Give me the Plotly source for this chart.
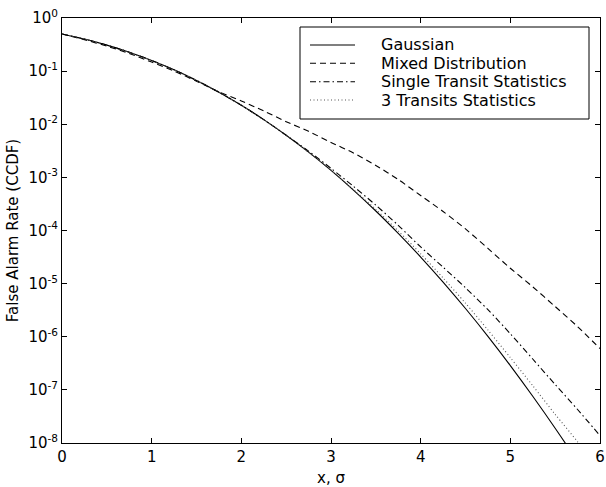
import plotly.graph_objects as go

# ---- data ----
x_vals = [0, 0.25, 0.5, 0.75, 1, 1.25, 1.5, 1.75, 2, 2.25, 2.5, 2.75, 3,
          3.25, 3.5, 3.75, 4, 4.25, 4.5, 4.75, 5, 5.25, 5.5, 5.75, 6]

gaussian = [0.5, 0.4013, 0.3085, 0.2266, 0.1587, 0.1056, 0.0668, 0.0401, 0.02275,
            0.01222, 0.00621, 0.00298, 0.00135, 5.77e-4, 2.33e-4, 8.84e-5, 3.17e-5,
            1.07e-5, 3.40e-6, 1.02e-6, 2.87e-7, 7.6e-8, 1.9e-8, 4.47e-9, 9.9e-10]

mixed = [0.5, 0.389, 0.295, 0.214, 0.148, 0.100, 0.0646, 0.0407, 0.0275,
         0.0178, 0.0112, 0.00735, 0.00455, 0.00288, 0.00168, 9.1e-4, 4.55e-4,
         2.28e-4, 1.07e-4, 4.6e-5, 1.95e-5, 8.7e-6, 3.7e-6, 1.55e-6, 6.0e-7]

single_transit = [0.5, 0.4013, 0.3085, 0.2266, 0.1587, 0.1056, 0.0668, 0.0401, 0.02275,
                  0.01222, 0.00621, 0.00312, 0.00148, 6.78e-4, 3.0e-4, 1.25e-4, 4.91e-5,
                  2.04e-5, 8.35e-6, 3.23e-6, 1.14e-6, 3.81e-7, 1.26e-7, 4.27e-8, 1.38e-8]

three_transits = [0.5, 0.4013, 0.3085, 0.2266, 0.1587, 0.1056, 0.0668, 0.0401, 0.02275,
                  0.01222, 0.00621, 0.00298, 0.00138, 5.90e-4, 2.49e-4, 9.8e-5, 3.64e-5,
                  1.28e-5, 4.28e-6, 1.34e-6, 4.05e-7, 1.20e-7, 3.46e-8, 1.05e-8, 2.8e-9]

series_names = ["Gaussian", "Mixed Distribution", "Single Transit Statistics", "3 Transits Statistics"]

x_ticks = [0, 1, 2, 3, 4, 5, 6]
x_tick_labels = ["0", "1", "2", "3", "4", "5", "6"]
y_ticks = [1e-8, 1e-7, 1e-6, 1e-5, 1e-4, 1e-3, 1e-2, 1e-1, 1]
y_tick_labels = ["10<sup>-8</sup>", "10<sup>-7</sup>", "10<sup>-6</sup>", "10<sup>-5</sup>",
                 "10<sup>-4</sup>", "10<sup>-3</sup>", "10<sup>-2</sup>", "10<sup>-1</sup>",
                 "10<sup>0</sup>"]

# ---- styling ----
FONT = "DejaVu Sans"
dashes = ["solid", "6px,4px", "6px,3px,1.5px,3px", "1px,2.5px"]
colors = ["#000000", "#000000", "#000000", "#555555"]
series = [gaussian, mixed, single_transit, three_transits]

W, H = 606, 487
ML, MR, MT, MB = 62, 6, 18, 44
PW, PH = W - ML - MR, H - MT - MB

fig = go.Figure()
for name, ys, d, c in zip(series_names, series, dashes, colors):
    fig.add_trace(go.Scatter(x=x_vals, y=ys, mode="lines", name=name,
                             line=dict(color=c, width=1.1, dash=d, shape="spline", smoothing=0.8),
                             showlegend=False))

# custom legend (box, samples, labels) in pixel-derived paper coords
def px2paper_x(px):
    return (px - ML) / PW

def py2paper_y(py):
    return (H - MB - py) / PH

shapes = [dict(type="rect", xref="paper", yref="paper",
               x0=px2paper_x(300), x1=px2paper_x(589), y0=py2paper_y(119), y1=py2paper_y(27),
               line=dict(color="black", width=1), fillcolor="white", layer="above")]
annotations = []
row_y = [45, 63.3, 81.7, 100]
for name, d, c, ry in zip(series_names, dashes, colors, row_y):
    shapes.append(dict(type="line", xref="paper", yref="paper",
                       x0=px2paper_x(310), x1=px2paper_x(355), y0=py2paper_y(ry), y1=py2paper_y(ry),
                       line=dict(color=c, width=1.1, dash=d), layer="above"))
    annotations.append(dict(xref="paper", yref="paper", x=px2paper_x(379), y=py2paper_y(ry),
                            text=name, showarrow=False, xanchor="left", yanchor="middle",
                            font=dict(family=FONT, size=16, color="black")))

fig.update_layout(
    width=W, height=H,
    margin=dict(l=ML, r=MR, t=MT, b=MB, autoexpand=False),
    paper_bgcolor="white", plot_bgcolor="white",
    font=dict(family=FONT, size=15, color="black"),
    shapes=shapes, annotations=annotations,
    xaxis=dict(range=[0, 6], tickvals=x_ticks, ticktext=x_tick_labels,
               ticks="inside", ticklen=5, tickcolor="black", showline=True, linecolor="black",
               linewidth=1, mirror="ticks", showgrid=False, zeroline=False,
               ticklabeloverflow="allow", automargin=False,
               title=dict(text="x, σ", font=dict(family=FONT, size=15), standoff=7),
               tickfont=dict(family=FONT, size=15)),
    yaxis=dict(type="log", range=[-8, 0], tickvals=y_ticks, ticktext=y_tick_labels,
               ticks="inside", ticklen=5, tickcolor="black", showline=True, linecolor="black",
               linewidth=1, mirror="ticks", showgrid=False, zeroline=False, minor=dict(ticks=""),
               automargin=False,
               title=dict(text="False Alarm Rate (CCDF)", font=dict(family=FONT, size=15), standoff=6),
               tickfont=dict(family=FONT, size=15)),
)

fig.write_html("out.html")
